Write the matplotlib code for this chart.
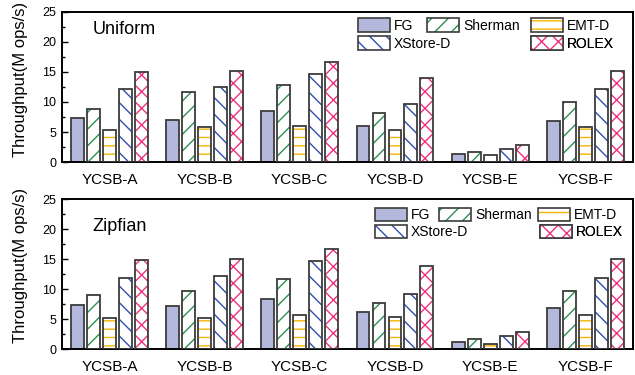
import numpy as np
import matplotlib
matplotlib.use('Agg')
import matplotlib.pyplot as plt
from matplotlib.patches import Patch
from matplotlib.ticker import MultipleLocator

plt.rcParams['font.family'] = ['Liberation Sans', 'DejaVu Sans']
plt.rcParams['hatch.linewidth'] = 1.0

workloads = ['YCSB-A', 'YCSB-B', 'YCSB-C', 'YCSB-D', 'YCSB-E', 'YCSB-F']
systems = ['FG', 'Sherman', 'EMT-D', 'XStore-D', 'ROLEX']

# uniform
uni_fg = [7.3, 7.0, 8.5, 6.0, 1.3, 6.8]
uni_sherman = [8.8, 11.6, 12.8, 8.1, 1.7, 10.0]
uni_emt = [5.3, 5.8, 6.0, 5.4, 1.1, 5.8]
uni_xstore = [12.1, 12.5, 14.7, 9.7, 2.2, 12.2]
uni_rolex = [15.0, 15.1, 16.6, 14.0, 2.8, 15.1]

# zipfian
zip_fg = [7.3, 7.2, 8.4, 6.1, 1.2, 6.9]
zip_sherman = [9.0, 9.7, 11.7, 7.7, 1.6, 9.7]
zip_emt = [5.1, 5.2, 5.6, 5.4, 0.8, 5.7]
zip_xstore = [11.9, 12.2, 14.7, 9.1, 2.1, 11.9]
zip_rolex = [14.9, 15.0, 16.7, 13.9, 2.8, 15.0]

edge = '#3c3c3c'
styles = [
    dict(face='#b4b8dc', hatch=None, hcol=None),
    dict(face='white', hatch='//', hcol='#2a9050'),
    dict(face='white', hatch='--', hcol='#f5b400'),
    dict(face='white', hatch='\\\\', hcol='#2f4fae'),
    dict(face='white', hatch='xx', hcol='#f0307f'),
]

fig = plt.figure(figsize=(6.35, 3.75), dpi=100)
ax1 = fig.add_axes([0.0976, 0.568, 0.899, 0.4])
ax2 = fig.add_axes([0.0976, 0.0693, 0.899, 0.4])

x = np.arange(len(workloads))
step = 0.168
w = 0.136


def handle(st):
    if st['hatch'] is None:
        return Patch(facecolor=st['face'], edgecolor=edge, lw=1.2)
    h1 = Patch(facecolor='white', edgecolor=st['hcol'], hatch=st['hatch'], lw=0)
    h2 = Patch(facecolor='none', edgecolor=edge, lw=1.2)
    return (h1, h2)


def draw(ax, data, title, ty, spots):
    for i, (vals, st) in enumerate(zip(data, styles)):
        pos = x + (i - 2) * step
        if st['hatch'] is None:
            ax.bar(pos, vals, w, color=st['face'], edgecolor=edge, lw=1.3, zorder=2)
        else:
            ax.bar(pos, vals, w, color='white', edgecolor=st['hcol'], hatch=st['hatch'], lw=0, zorder=2)
            ax.bar(pos, vals, w, color='none', edgecolor=edge, lw=1.3, zorder=3)
    ax.set_xlim(-0.5, 5.5)
    ax.set_ylim(0, 25)
    ax.yaxis.set_major_locator(MultipleLocator(5))
    ax.yaxis.set_minor_locator(MultipleLocator(2.5))
    ax.tick_params(axis='y', which='both', direction='in', labelsize=9, pad=4)
    ax.tick_params(axis='y', which='major', length=4, width=1)
    ax.tick_params(axis='y', which='minor', length=2.5, width=1)
    ax.set_xticks(x)
    ax.set_xticklabels(workloads, fontsize=11)
    ax.tick_params(axis='x', length=0, pad=8)
    for s in ax.spines.values():
        s.set_linewidth(1.4)
    ax.text(0.053, ty, title, transform=ax.transAxes, fontsize=13, va='center', ha='left')

    # one legend per entry so the entries sit where the original puts them
    kw = dict(frameon=False, fontsize=10, handlelength=2.3, handleheight=1.1,
              handletextpad=0.3, borderpad=0, borderaxespad=0, loc='center left')
    for st, name, xy in zip(styles, systems, spots):
        lg = ax.legend([handle(st)], [name], bbox_to_anchor=xy, **kw)
        ax.add_artist(lg)


draw(ax1, [uni_fg, uni_sherman, uni_emt, uni_xstore, uni_rolex], 'Uniform', 0.88,
     [(0.518, 0.91), (0.639, 0.91), (0.821, 0.91), (0.518, 0.79), (0.821, 0.79)])
draw(ax2, [zip_fg, zip_sherman, zip_emt, zip_xstore, zip_rolex], 'Zipfian', 0.82,
     [(0.548, 0.895), (0.660, 0.895), (0.834, 0.895), (0.548, 0.78), (0.837, 0.78)])

fig.text(0.032, 0.787, 'Throughput(M ops/s)', rotation=90, fontsize=12, ha='center', va='center')
fig.text(0.032, 0.293, 'Throughput(M ops/s)', rotation=90, fontsize=12, ha='center', va='center')

fig.savefig('out.png', dpi=100)
